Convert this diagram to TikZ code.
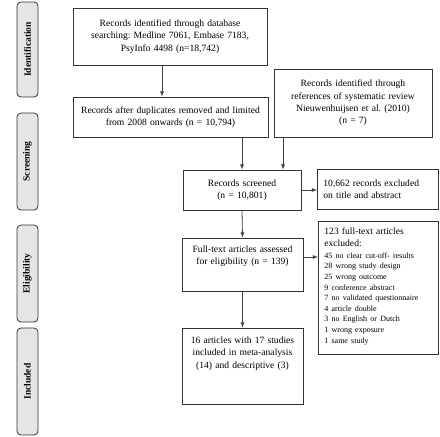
\documentclass[tikz,border=0pt]{standalone}
\usepackage{fontspec}
\setmainfont{Liberation Serif}
\usetikzlibrary{shapes,backgrounds}
\usetikzlibrary{arrows}

\tikzset{
  box/.style={draw=black!80, line width=0.8pt, inner sep=3pt, align=center,
    font=\frenchspacing\fontsize{9.6}{12.3}\selectfont},
  phase/.style={draw=black!80, line width=0.8pt, fill=black!10, rounded corners=4pt,
    rotate=90, minimum height=21pt, inner sep=0pt,
    font=\bfseries\fontsize{9.5}{11}\selectfont},
  arr/.style={-latex, draw=black!75, line width=0.8pt}
}

\begin{document}
\begin{tikzpicture}[x=1pt,y=-1pt]
\useasboundingbox (0,0) rectangle (440,437);
% phases
\node[phase, minimum width=95pt] (ident) at (27.5,49.5) {Identification};
\node[phase, minimum width=97pt] (screen) at (27.5,161.5) {Screening};
\node[phase, minimum width=97pt] (elig) at (27.5,273.5) {Eligibility};
\node[phase, minimum width=107pt] (incl) at (27.5,381.5) {Included};
% boxes
\node[box, minimum width=194pt, minimum height=57pt, text width=188pt] (dbase) at (170,36.5)
  {Records identified through database\\ searching: Medline 7061, Embase 7183,\\ PsyInfo 4498 (n=18,742)};
\node[box, minimum width=195pt, minimum height=40pt, text width=189pt] (dupl) at (170.5,117)
  {Records after duplicates removed and limited\\ from 2008 onwards (n = 10,794)};
\node[box, minimum width=158pt, minimum height=68pt, text width=152pt] (refs) at (353,103)
  {Records identified through\\ references of systematic review\\ Nieuwenhuijsen et al. (2010)\\ (n = 7)};
\node[box, minimum width=118pt, minimum height=40pt, text width=112pt] (scrd) at (242,190)
  {Records screened\\ (n = 10,801)};
\node[box, minimum width=121pt, minimum height=40pt, text width=109pt, inner xsep=6pt,
  align=left, anchor=west] (excl) at (317,189)
  {10,662 records excluded\\ on title and abstract};
\node[box, text width=115pt] (full) at (242.5,264.5)
  {\parbox[c][47pt][t]{115pt}{\centering\vspace*{5pt}Full-text articles assessed\\ for eligibility (n = 139)}};
\node[box, text width=115pt] (incd) at (242.5,366)
  {\parbox[c][70pt][t]{115pt}{\centering\vspace*{6pt}16 articles with 17 studies\\ included in meta-analysis\\ (14) and descriptive (3)}};
\node[box, minimum width=120pt, minimum height=133pt, text width=108pt, inner sep=6pt,
  align=left, anchor=north west] (ftex) at (318,221)
  {\parbox[c][121pt][t]{108pt}{123 full-text articles\\[2pt] excluded:\\[1pt]
   {\fontsize{8}{10.6}\selectfont
   45 no clear cut-off- results\\ 28 wrong study design\\ 25 wrong outcome\\
   9 conference abstract\\ 7 no validated questionnaire\\ 4 article double\\
   3 no English or Dutch\\ 1 wrong exposure\\ 1 same study\par}}};
\coordinate (fullout) at ([yshift=7.5pt]full.east);
% arrows
\draw[arr] ([xshift=-8pt]dbase.south) -- ([xshift=-8.5pt]dupl.north);
\draw[arr] (dupl.south -| scrd.north) -- (scrd.north);
\draw[arr] ([xshift=41pt]scrd.north |- refs.south) -- ([xshift=41pt]scrd.north);
\draw[arr] (scrd.east) -- (excl.west |- scrd.east);
\draw[arr] (scrd.south) -- (full.north);
\draw[arr] (fullout) -- (ftex.west |- fullout);
\draw[arr] (full.south) -- (incd.north);
\end{tikzpicture}
\end{document}
